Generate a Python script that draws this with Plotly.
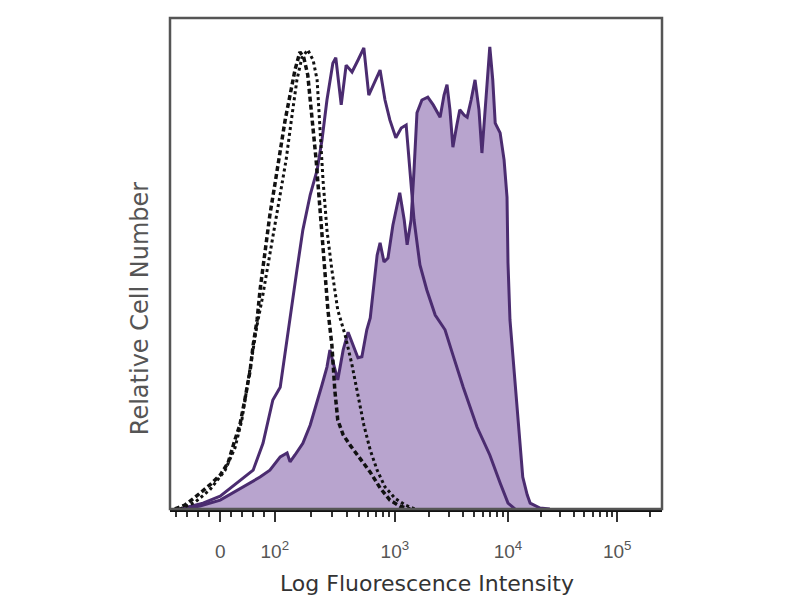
import numpy as np
import plotly.graph_objects as go

# ---- data (channel units 0-1000 on the display scale, relative counts 0-100) ----
filled_x = [30, 61, 102, 148, 183, 203, 224, 238, 244, 254, 270, 285, 299, 309, 319, 325,
            333, 341, 352, 362, 372, 382, 390, 400, 407, 415, 421, 427, 435, 443, 453, 467,
            476, 482, 490, 496, 502, 512, 524, 535, 549, 557, 563, 569, 575, 583, 589, 598,
            604, 612, 620, 628, 634, 642, 650, 656, 661, 671, 679, 685, 687, 691, 699, 705,
            711, 717, 726, 732, 752, 772]
filled_y = [0, 0.6, 1.8, 4.5, 6.5, 7.9, 10.6, 11.4, 9.6, 11.0, 13.4, 17.1, 21.6, 25.3, 28.9, 32.4,
            29.3, 26.3, 32.4, 36.0, 33.4, 30.8, 31.0, 36.5, 38.9, 45.6, 51.7, 54.2, 50.3, 51.1, 57.8, 64.4,
            58.9, 53.8, 58.9, 69.0, 80.7, 83.3, 83.9, 82.3, 79.8, 84.3, 86.4, 81.3, 73.7, 78.2, 81.3, 80.2,
            79.8, 83.3, 87.4, 81.3, 72.5, 83.3, 94.1, 87.4, 78.6, 76.6, 71.1, 63.5, 50.1, 38.5, 28.3, 21.6,
            14.1, 6.5, 2.9, 1.2, 0.2, 0]

open_x = [20, 67, 102, 136, 169, 189, 209, 224, 238, 258, 270, 285, 299, 309, 319, 331, 337, 348,
          358, 370, 382, 394, 404, 417, 427, 437, 447, 459, 470, 480, 488, 496, 508, 522, 539, 559,
          575, 596, 624, 650, 671, 687, 701]
open_y = [0, 1.2, 2.6, 5.3, 7.9, 13.4, 22.2, 24.8, 35.0, 48.7, 56.8, 64.0, 69.0, 75.2, 83.3, 90.8,
          91.9, 82.3, 90.4, 89.0, 91.4, 93.9, 84.3, 87.4, 89.4, 83.3, 79.2, 75.6, 77.6, 78.2, 69.0,
          58.9, 49.7, 44.6, 39.5, 36.5, 31.4, 24.8, 16.7, 11.0, 5.3, 1.2, 0]

dash_x = [10, 30, 51, 81, 102, 118, 132, 142, 152, 163, 169, 177, 183, 193, 203, 213, 224, 234,
          244, 254, 264, 272, 280, 289, 297, 305, 313, 321, 329, 335, 341, 352, 366, 386, 407, 427,
          447, 467, 488]
dash_y = [0, 0.8, 2.4, 4.9, 6.9, 9.4, 14.1, 17.1, 22.2, 28.3, 33.4, 38.5, 44.6, 52.7, 59.9, 66.0,
          73.1, 79.2, 84.3, 89.4, 93.1, 91.9, 88.4, 79.2, 71.1, 60.9, 50.7, 40.5, 33.4, 24.2, 18.1,
          15.1, 13.0, 10.4, 7.5, 4.3, 1.8, 0.6, 0]

dot_x = [20, 51, 81, 112, 132, 146, 159, 167, 177, 187, 199, 211, 224, 236, 248, 258, 268, 280,
         291, 299, 305, 311, 319, 329, 341, 356, 370, 382, 394, 407, 421, 437, 457, 478, 498]
dot_y = [0, 1.4, 3.9, 7.9, 12.4, 18.1, 26.3, 31.4, 37.5, 42.6, 49.7, 56.8, 64.0, 71.1, 80.2, 87.4,
         91.9, 93.5, 91.4, 87.4, 77.2, 67.0, 56.8, 48.7, 40.5, 35.4, 29.3, 23.2, 17.1, 12.0, 7.9,
         4.5, 2.2, 0.8, 0]

# axis: display positions of intensity values
major_vals = [0, 100, 1000, 10000, 100000]
major_pos = [102, 213, 457, 687, 909]
major_text = ["0", "10<sup>2</sup>", "10<sup>3</sup>", "10<sup>4</sup>", "10<sup>5</sup>"]


def to_channel(v):
    if v <= 100:
        return major_pos[0] + (major_pos[1] - major_pos[0]) * v / 100.0
    lv = np.log10(v)
    if lv >= 5:
        return major_pos[4] + (lv - 5) * (major_pos[4] - major_pos[3])
    i = int(np.floor(lv)) - 2
    return major_pos[i + 1] + (lv - (i + 2)) * (major_pos[i + 2] - major_pos[i + 1])


minor_vals = [-80, -60, -40, -20, 20, 40, 60, 80]
for d in [100, 1000, 10000]:
    minor_vals += [k * d for k in range(2, 10)]
minor_vals += [200000]
minor_pos = [to_channel(v) for v in minor_vals]

PURPLE = "#4b2c70"
FILL = "rgba(184,164,206,1)"

fig = go.Figure()
fig.add_trace(go.Scatter(x=filled_x, y=filled_y, mode="lines", fill="tozeroy",
                         fillcolor=FILL, line=dict(color=PURPLE, width=3)))
fig.add_trace(go.Scatter(x=open_x, y=open_y, mode="lines",
                         line=dict(color=PURPLE, width=3)))
fig.add_trace(go.Scatter(x=dash_x, y=dash_y, mode="lines",
                         line=dict(color="#111111", width=3.5, dash="5px,3px")))
fig.add_trace(go.Scatter(x=dot_x, y=dot_y, mode="lines",
                         line=dict(color="#111111", width=3, dash="3px,3px")))

fig.update_layout(
    width=792, height=592,
    margin=dict(l=162, r=138, t=10, b=91),
    paper_bgcolor="white", plot_bgcolor="white",
    showlegend=False,
    xaxis=dict(range=[0, 1000], showgrid=False, zeroline=False,
               showline=True, linecolor="#111111", linewidth=3,
               tickmode="array", tickvals=major_pos, ticktext=major_text,
               ticks="outside", ticklen=10, tickwidth=1.5, tickcolor="#333333",
               ticklabelstandoff=13,
               tickfont=dict(family="Liberation Sans, Arial", size=19, color="#555555"),
               minor=dict(tickmode="array", tickvals=minor_pos, ticks="outside",
                          ticklen=5, tickwidth=1.5, tickcolor="#333333")),
    yaxis=dict(range=[0, 100], showgrid=False, zeroline=False, showticklabels=False,
               ticks="", showline=False),
    shapes=[dict(type="rect", xref="paper", yref="paper", x0=0, y0=0, x1=1, y1=1,
                 line=dict(color="#555555", width=2.5), layer="above")],
    annotations=[
        dict(text="Log Fluorescence Intensity", xref="paper", yref="paper",
             x=0.522, y=-0.151, xanchor="center", yanchor="middle", showarrow=False,
             font=dict(family="DejaVu Sans", size=22, color="#333333")),
        dict(text="Relative Cell Number", xref="paper", yref="paper",
             x=-0.061, y=0.409, xanchor="center", yanchor="middle", showarrow=False,
             textangle=-90,
             font=dict(family="DejaVu Sans", size=24, color="#555555")),
    ],
)

fig.write_html("out.html")
